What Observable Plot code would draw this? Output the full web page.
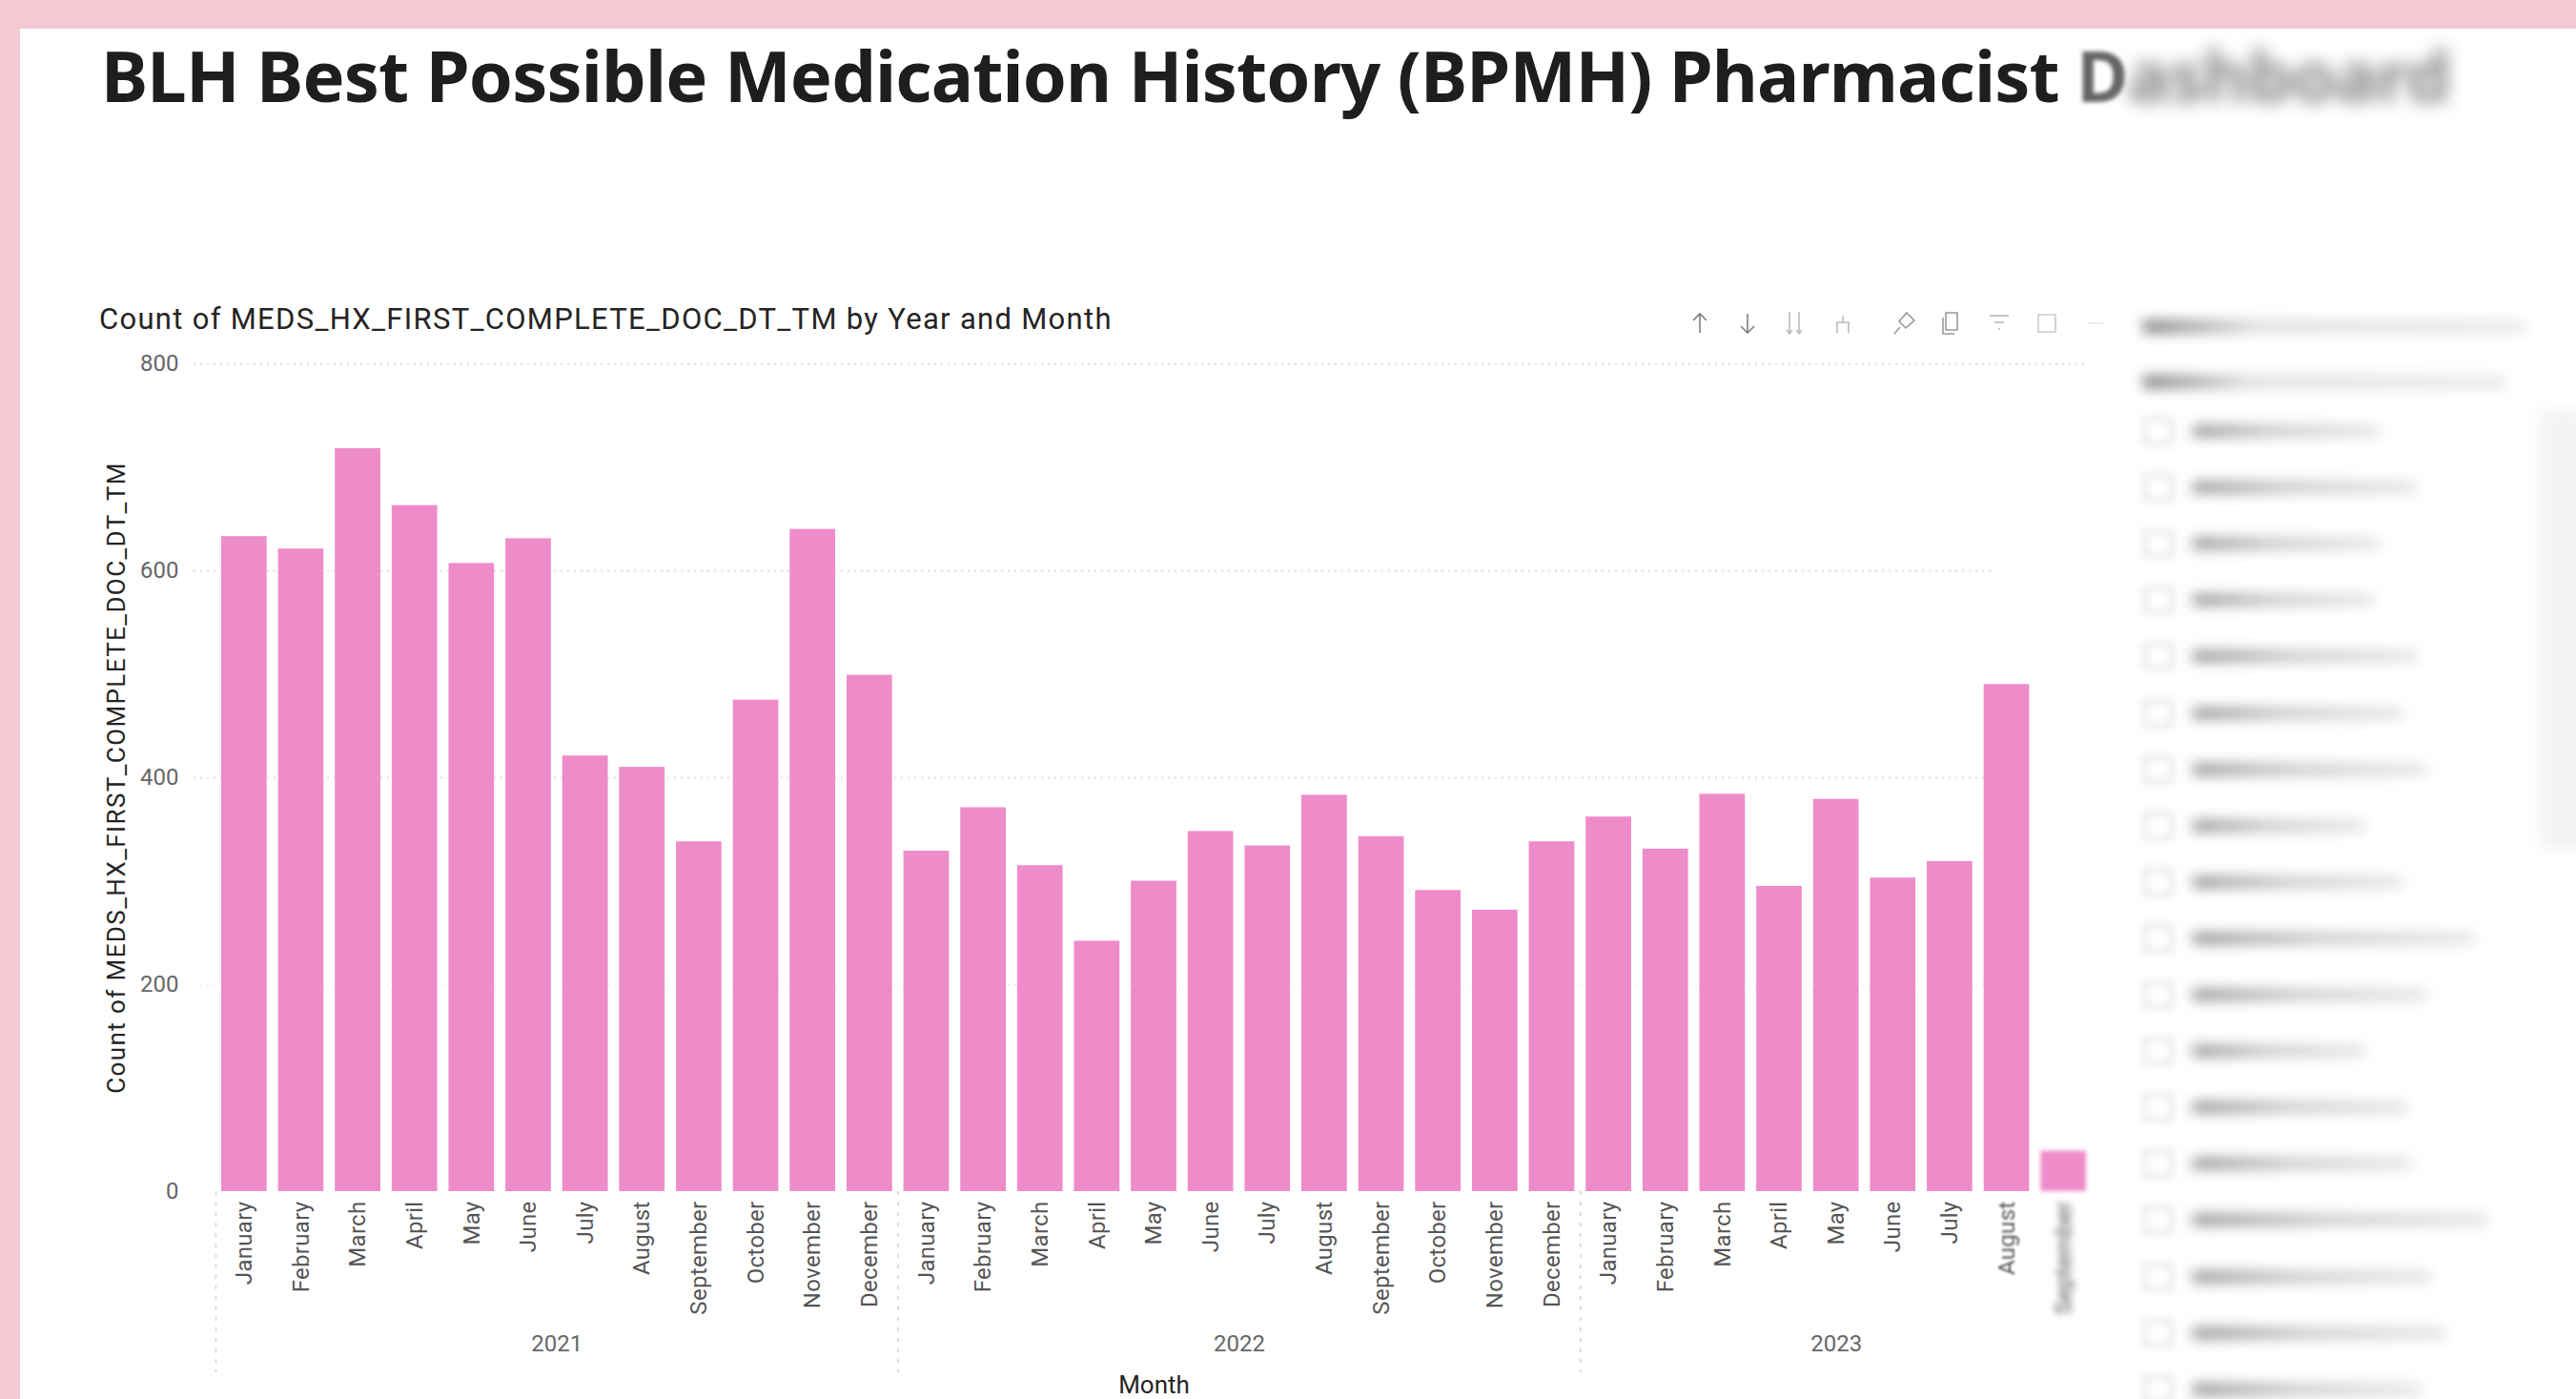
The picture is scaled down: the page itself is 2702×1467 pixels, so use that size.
<!DOCTYPE html>
<html><head><meta charset="utf-8">
<script src="https://cdn.jsdelivr.net/npm/d3@7"></script>
<script src="https://cdn.jsdelivr.net/npm/@observablehq/plot@0.6"></script>
<style>
html,body{margin:0;padding:0;background:#fff}
#page{position:relative;width:2702px;height:1467px;overflow:hidden;background:#fff}
#page .pink{position:absolute;background:#f3c9d3}
#head{position:absolute;left:0;top:0;width:2702px;height:360px}
h1{position:absolute;left:106px;top:28px;margin:0;font:700 74px "Noto Sans",sans-serif;letter-spacing:-0.85px;color:#1f1e1d;white-space:nowrap}
h1 .b1{filter:blur(2px);color:#666}
h1 .b2{filter:blur(9px);color:#888}
h1 span{display:inline-block}
h2{position:absolute;left:104px;top:316px;margin:0;font:400 31px Roboto,sans-serif;letter-spacing:1.3px;color:#252423;white-space:nowrap}
#plot{position:absolute;left:0;top:360px}
.icon{position:absolute;top:325px;width:28px;height:28px}
.row{position:absolute;background:#9a9a9a;filter:blur(7px);height:12px}
.box{position:absolute;width:30px;height:28px;border:2px solid #c8c8c8;filter:blur(4px);box-sizing:border-box}
</style></head>
<body><div id="page">
<div class="pink" style="left:0;top:0;width:2702px;height:30px"></div>
<div class="pink" style="left:0;top:0;width:21px;height:1467px"></div>
<div id="head">
<h1>BLH Best Possible Medication History (BPMH) Pharmacist <span class="b1">D</span><span class="b2">ashboard</span></h1>
<h2>Count of MEDS_HX_FIRST_COMPLETE_DOC_DT_TM by Year and Month</h2>
</div>
<div id="plot"></div>
</div>
<script>
const monthNames = ["January","February","March","April","May","June","July","August","September","October","November","December"];
const years = [2021, 2022, 2023];
const monthKeys = [];
for (const yr of years) monthNames.forEach((m, i) => { if (yr < 2023 || i < 9) monthKeys.push(yr + "-" + m); });
const counts2021 = [633, 621, 718, 663, 607, 631, 421, 410, 338, 475, 640, 499];
const counts2022 = [329, 371, 315, 242, 300, 348, 334, 383, 343, 291, 272, 338];
const counts2023 = [362, 331, 384, 295, 379, 303, 319, 490, 39];
const yTicks = [0, 200, 400, 600, 800];
const yearLabels = ["2021", "2022", "2023"];
const yearAnchors = ["2021-June", "2022-June", "2023-May"];
const yearOffsets = [0.5, 0.5, 0];
const separators = ["2021-January", "2022-January", "2023-January"];
const listWidths = [195, 235, 195, 190, 235, 220, 245, 180, 220, 295, 245, 180, 225, 230, 310, 250, 265, 240];

const values = [...counts2021, ...counts2022, ...counts2023];
const data = monthKeys.map((k, i) => ({key: k, value: values[i]}));
const step = 1968 / 33;
const ink = "#252423", tickInk = "#666666", font = "Roboto, sans-serif";
const gridStyle = {stroke: "#dedede", strokeWidth: 2, strokeDasharray: "2 5", insetLeft: -23};

const chart = Plot.plot({
  width: 2702, height: 1107,
  marginTop: 21, marginBottom: 218, marginLeft: 226, marginRight: 508,
  style: {background: "transparent", overflow: "visible", fontFamily: font},
  x: {domain: monthKeys, paddingInner: 0.2, paddingOuter: 0.1, align: 0.5, round: false, label: null},
  y: {domain: [0, 800], label: null},
  marks: [
    Plot.ruleY([800], {...gridStyle, insetRight: 4}),
    Plot.ruleY([400, 600], {...gridStyle, insetRight: 105}),
    Plot.ruleY([200], {...gridStyle, insetRight: 105, strokeOpacity: 0.45}),
    Plot.ruleX(separators, {x: d => d, dx: -step / 2, y1: 0, y2: 0, insetBottom: -190, stroke: "#d4d4d4", strokeWidth: 1.5, strokeDasharray: "4 7"}),
    Plot.barY(data, {x: "key", y: "value", fill: "#ee8bc9"}),
    Plot.axisY({ticks: yTicks, tickSize: 0, tickPadding: 39, fontSize: 24, color: tickInk, label: null}),
    Plot.axisX({tickSize: 0, tickPadding: 10, tickRotate: -90, fontSize: 24, color: "#555",
      tickFormat: k => k.split("-")[1], label: null}),
    Plot.text(yearLabels, {x: (d, i) => yearAnchors[i], text: d => d, frameAnchor: "bottom", dy: 167, fontSize: 24, fill: tickInk,
      render(index, scales, values, dims, ctx, next) {
        const g = next(index, scales, values, dims, ctx);
        d3.select(g).selectAll("text").attr("transform", function(_, j) {
          const cur = this.getAttribute("transform") || "";
          return cur + ` translate(${yearOffsets[index[j]] * step},0)`;
        });
        return g;
      }}),
    Plot.text(["Count of MEDS_HX_FIRST_COMPLETE_DOC_DT_TM"], {frameAnchor: "left", dx: -104, rotate: -90, textAnchor: "middle", fontSize: 26, fill: ink,
      render(index, scales, values, dims, ctx, next) {
        const g = next(index, scales, values, dims, ctx);
        g.setAttribute("letter-spacing", "1.4px");
        return g;
      }}),
    Plot.text(["Month"], {frameAnchor: "bottom", dy: 211, fontSize: 26, fill: ink})
  ]
});
document.getElementById("plot").append(chart);

// Fading blur on the right-most bar and labels, as in the reference.
const labels = [...chart.querySelectorAll('[aria-label="x-axis tick label"] text')];
labels.forEach(t => t.setAttribute("letter-spacing", "0.3px"));
labels[labels.length - 2].style.filter = "blur(1.2px)";
labels[labels.length - 1].style.filter = "blur(3.5px)";
const rects = chart.querySelectorAll('[aria-label="bar"] rect');
rects[rects.length - 1].style.filter = "blur(2px)";

// Toolbar icons and the blurred slicer panel.
const page = document.getElementById("page");
const iconPaths = [
  "M14 4V24M7 11L14 4L21 11", "M14 4V24M7 17L14 24L21 17", "M9 2V25M19 2V25M6 21L9 25L12 21M16 21L19 25L22 21",
  "M8 24V13H20V24M14 13V6", "M17 3L25 11L16 19L9 12ZM10 18L4 25", "M8 3H20V21H8ZM5 8V25H17", "M4 6H24M9 13H19M13 20H15", "M5 5H23V23H5Z", "M6 14H22"
];
const iconX = [1769, 1819, 1868, 1919, 1983, 2033, 2083, 2133, 2184];
const iconOp = [0.75, 0.75, 0.4, 0.4, 0.6, 0.6, 0.45, 0.3, 0.12];
iconPaths.forEach((p, i) => {
  const s = document.createElementNS("http://www.w3.org/2000/svg", "svg");
  s.setAttribute("class", "icon"); s.setAttribute("viewBox", "0 0 28 28");
  s.style.left = iconX[i] + "px"; s.style.opacity = iconOp[i];
  s.innerHTML = `<path d="${p}" fill="none" stroke="#555" stroke-width="1.6"/>`;
  page.append(s);
});
function bar(left, top, w, h, css) {
  const d = document.createElement("div");
  d.className = "row"; d.style.cssText = `left:${left}px;top:${top}px;width:${w}px;height:${h}px;${css || ""}`;
  page.append(d);
}
bar(2248, 336, 400, 13, "background:linear-gradient(90deg,#777,#ddd 30%,#e8e8e8);");
bar(2248, 394, 380, 13, "background:linear-gradient(90deg,#777,#ddd 30%,#e8e8e8);");
bar(2664, 430, 50, 460, "background:#f3f3f3;filter:blur(8px);");
listWidths.forEach((w, i) => {
  const y = 452 + i * 59.1;
  const b = document.createElement("div");
  b.className = "box"; b.style.left = "2249px"; b.style.top = (y - 14) + "px";
  page.append(b);
  bar(2300, y - 6, w, 12, "background:linear-gradient(90deg,#8f8f8f,#c8c8c8 45%,#e4e4e4);");
});
</script>
</body></html>
